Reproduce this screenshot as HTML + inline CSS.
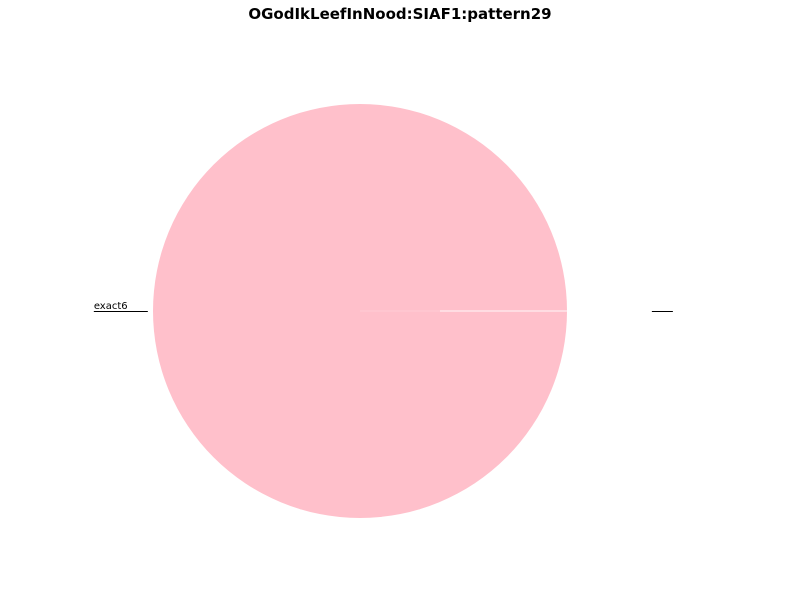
<!DOCTYPE html>
<html><head><meta charset="utf-8"><style>
body{margin:0;background:#fff;}
svg{display:block;font-family:"DejaVu Sans","Liberation Sans",sans-serif;}
</style></head><body>
<svg id="chart" width="800" height="600" viewBox="0 0 800 600">
<text x="400" y="19" text-anchor="middle" font-size="15" font-weight="bold" fill="#000">OGodIkLeefInNood:SIAF1:pattern29</text>
<g id="slices"></g>
<g id="labels"></g>
</svg>
<script>
const categories = ["exact6", ""];
const values = [100, 0];
const cx = 360, cy = 311, r = 207;
const ns = "http://www.w3.org/2000/svg";
const gS = document.getElementById('slices'), gL = document.getElementById('labels');
const total = values.reduce((a,b)=>a+b,0);
let a0 = 0;
values.forEach((v,i)=>{
  const frac = v/total, a1 = a0 + frac*2*Math.PI;
  if (frac > 0) {
    let el;
    if (frac >= 0.9999) {
      el = document.createElementNS(ns,'circle');
      el.setAttribute('cx',cx); el.setAttribute('cy',cy); el.setAttribute('r',r);
    } else {
      el = document.createElementNS(ns,'path');
      const x0=cx+r*Math.cos(a0), y0=cy-r*Math.sin(a0), x1=cx+r*Math.cos(a1), y1=cy-r*Math.sin(a1);
      el.setAttribute('d',`M${cx},${cy} L${x0},${y0} A${r},${r} 0 ${frac>0.5?1:0} 0 ${x1},${y1} Z`);
    }
    el.setAttribute('fill','#ffc0cb');
    
    
    gS.appendChild(el);
  } else {
    const ex = Math.cos(a0), ey = -Math.sin(a0);
    const e1 = document.createElementNS(ns,'line');
    e1.setAttribute('x1',cx); e1.setAttribute('y1',cy);
    e1.setAttribute('x2',cx+ex*80); e1.setAttribute('y2',cy+ey*80);
    e1.setAttribute('stroke','#fff'); e1.setAttribute('stroke-opacity','0.15'); e1.setAttribute('stroke-width','1.5');
    
    
    gS.appendChild(e1);
    const e2 = document.createElementNS(ns,'line');
    e2.setAttribute('x1',cx+ex*80); e2.setAttribute('y1',cy+ey*80);
    e2.setAttribute('x2',cx+ex*r); e2.setAttribute('y2',cy+ey*r);
    e2.setAttribute('stroke','#fff'); e2.setAttribute('stroke-opacity','0.6'); e2.setAttribute('stroke-width','1.5');
    
    
    gS.appendChild(e2);
  }
  const mid = (a0+a1)/2, c = Math.cos(mid), y = cy - r*Math.sin(mid);
  const line = document.createElementNS(ns,'line');
  let lx0, lx1;
  if (c < 0) { lx1 = cx - r*1.025; lx0 = lx1 - 54; }
  else { lx0 = cx + r*1.41; lx1 = lx0 + 21; }
  line.setAttribute('x1',lx0); line.setAttribute('x2',lx1);
  line.setAttribute('y1',y+0.5); line.setAttribute('y2',y+0.5);
  line.setAttribute('stroke','#000'); line.setAttribute('stroke-width','1');
  
  
  gL.appendChild(line);
  const t = document.createElementNS(ns,'text');
  t.setAttribute('x',lx0); t.setAttribute('y',y-2);
  t.setAttribute('font-size','10'); t.setAttribute('fill','#000');
  t.textContent = categories[i];
  
  
  gL.appendChild(t);
  a0 = a1;
});
</script>
</body></html>
